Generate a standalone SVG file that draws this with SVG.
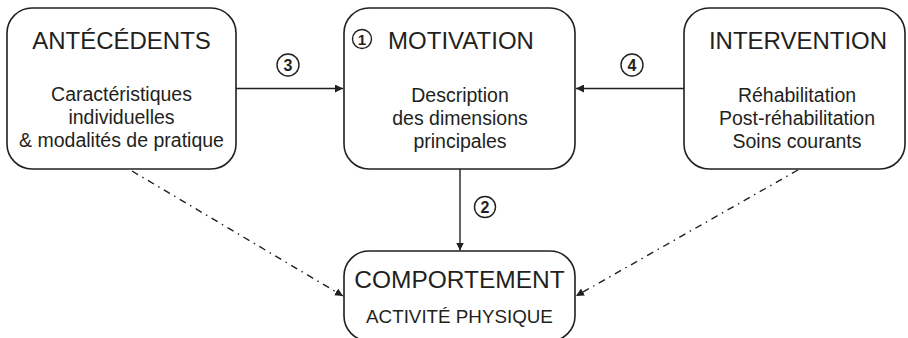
<svg xmlns="http://www.w3.org/2000/svg" width="908" height="338" viewBox="0 0 908 338">
<style>
.box{fill:#fff;stroke:#231f20;stroke-width:1.6}
.t{font-family:"Liberation Sans",Arial,sans-serif;fill:#231f20;text-anchor:middle}
.h{font-size:24px}
.s{font-size:19.5px}
.n{font-family:"Liberation Sans",Arial,sans-serif;font-weight:bold;fill:#231f20;text-anchor:middle;font-size:16px}
.c{fill:none;stroke:#231f20;stroke-width:1.4}
.ln{fill:none;stroke:#231f20;stroke-width:1.4}
.dd{fill:none;stroke:#231f20;stroke-width:1.4;stroke-dasharray:7 5 1.5 5}
</style>
<defs>
<marker id="ah" viewBox="0 0 10 10" refX="10" refY="5" markerWidth="8" markerHeight="8" markerUnits="userSpaceOnUse" orient="auto">
<path d="M0,0 L10,5 L0,10 Z" fill="#231f20"/>
</marker>
</defs>
<g id="connectors">
<line class="ln" x1="236" y1="88.5" x2="343" y2="88.5" marker-end="url(#ah)"/>
<line class="ln" x1="684" y1="88.5" x2="576" y2="88.5" marker-end="url(#ah)"/>
<line class="ln" x1="460" y1="169" x2="460" y2="250.5" marker-end="url(#ah)"/>
<line class="dd" x1="132" y1="171" x2="343" y2="296" marker-end="url(#ah)"/>
<line class="dd" x1="798" y1="170" x2="576" y2="296" marker-end="url(#ah)"/>
<circle class="c" cx="288" cy="65" r="11"/>
<text class="n" x="288" y="70.8">3</text>
<circle class="c" cx="632" cy="65" r="11"/>
<text class="n" x="632" y="70.8">4</text>
<circle class="c" cx="485" cy="207" r="10.5"/>
<text class="n" x="485" y="212.8">2</text>
</g>
<g id="antecedents">
<rect class="box" x="7" y="8" width="229" height="161" rx="25" ry="25"/>
<text class="t h" x="121.5" y="49">ANTÉCÉDENTS</text>
<text class="t s" x="121.5" y="101">Caractéristiques</text>
<text class="t s" x="121.5" y="124">individuelles</text>
<text class="t s" x="121.5" y="147">&amp; modalités de pratique</text>
</g>
<g id="motivation">
<rect class="box" x="344" y="8" width="231" height="161" rx="25" ry="25"/>
<circle class="c" cx="362" cy="39" r="9.5"/>
<text class="n" x="362" y="44.5" style="font-size:15px">1</text>
<text class="t h" x="461" y="49">MOTIVATION</text>
<text class="t s" x="460" y="102">Description</text>
<text class="t s" x="460" y="125">des dimensions</text>
<text class="t s" x="460" y="148">principales</text>
</g>
<g id="intervention">
<rect class="box" x="684" y="8" width="221" height="161" rx="25" ry="25"/>
<text class="t h" x="798" y="49">INTERVENTION</text>
<text class="t s" x="797" y="102">Réhabilitation</text>
<text class="t s" x="797" y="125">Post-réhabilitation</text>
<text class="t s" x="797" y="148">Soins courants</text>
</g>
<g id="comportement">
<rect class="box" x="344" y="251" width="231" height="90" rx="25" ry="25"/>
<text class="t h" x="459.5" y="288" style="font-size:24.5px">COMPORTEMENT</text>
<text class="t" x="459.5" y="323" style="font-size:18.8px">ACTIVITÉ PHYSIQUE</text>
</g>
</svg>
